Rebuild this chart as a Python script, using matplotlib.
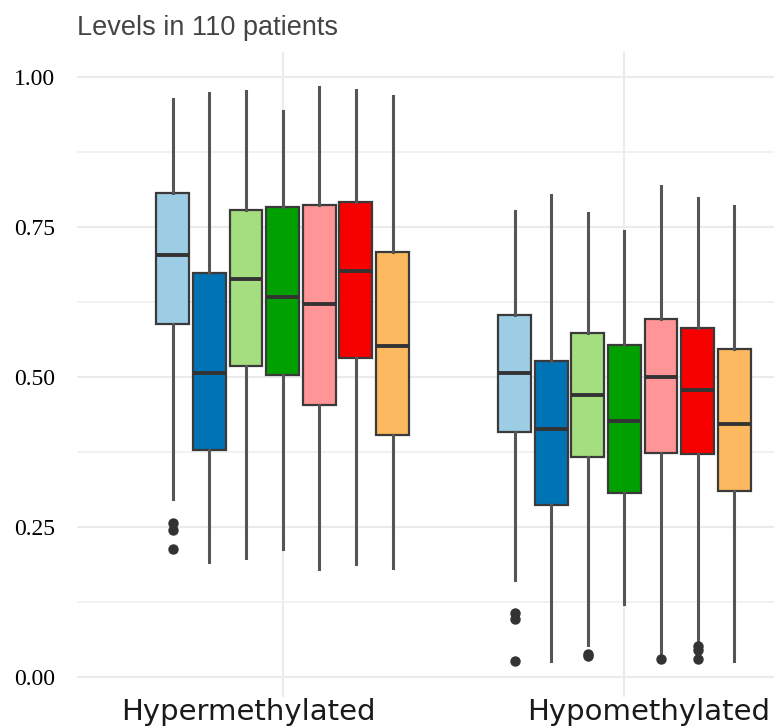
import matplotlib
matplotlib.use("Agg")
import matplotlib.pyplot as plt
import matplotlib.transforms as mtransforms

# Methylation groups on the x axis
groups = ["Hypermethylated", "Hypomethylated"]

# Box fill colours, one per series (same order inside each group)
colors = ["#9DCDE5", "#0073B5", "#A5DE7F", "#00A000", "#FF9596", "#F70000", "#FDB95F"]

# Five-number summaries per series: [whisker low, Q1, median, Q3, whisker high]
hyper_stats = [
    [0.297, 0.588, 0.703, 0.807, 0.963],
    [0.192, 0.379, 0.506, 0.674, 0.974],
    [0.199, 0.518, 0.664, 0.778, 0.976],
    [0.214, 0.504, 0.633, 0.784, 0.944],
    [0.180, 0.454, 0.622, 0.786, 0.983],
    [0.188, 0.531, 0.677, 0.791, 0.979],
    [0.182, 0.404, 0.552, 0.709, 0.969],
]
hypo_stats = [
    [0.162, 0.408, 0.506, 0.603, 0.777],
    [0.026, 0.287, 0.413, 0.526, 0.803],
    [0.053, 0.366, 0.470, 0.573, 0.774],
    [0.121, 0.307, 0.427, 0.554, 0.744],
    [0.040, 0.373, 0.500, 0.597, 0.819],
    [0.059, 0.372, 0.479, 0.582, 0.799],
    [0.027, 0.310, 0.421, 0.546, 0.785],
]

# Outlying points per series
hyper_outliers = [[0.256, 0.245, 0.213], [], [], [], [], [], []]
hypo_outliers = [[0.107, 0.097, 0.027], [], [0.038, 0.035], [], [0.030], [0.052, 0.045, 0.030], []]

y_ticks = [0.00, 0.25, 0.50, 0.75, 1.00]
y_ticklabels = ["0.00", "0.25", "0.50", "0.75", "1.00"]
title = "Levels in 110 patients"

W, H = 774, 728
fig = plt.figure(figsize=(W / 100, H / 100), dpi=100)
ax = fig.add_axes([77 / W, 1 - 697 / H, 1 - 77 / W, (697 - 52) / H])

n = len(colors)
dodge = 0.75 / n
box_w = 0.096

for gi, (stats, outs) in enumerate([(hyper_stats, hyper_outliers), (hypo_stats, hypo_outliers)]):
    center = gi + 1
    for si in range(n):
        lo, q1, med, q3, hi = stats[si]
        pos = center + (si - (n - 1) / 2) * dodge
        bstat = dict(whislo=lo, q1=q1, med=med, q3=q3, whishi=hi, fliers=outs[si])
        ax.bxp(
            [bstat], positions=[pos], widths=box_w, patch_artist=True,
            showcaps=False, manage_ticks=False,
            boxprops=dict(facecolor=colors[si], edgecolor="#3a3a3a", linewidth=1.6),
            medianprops=dict(color="#333333", linewidth=2.8, solid_capstyle="butt"),
            whiskerprops=dict(color="#555555", linewidth=2.2),
            flierprops=dict(marker="o", markerfacecolor="#333333", markeredgecolor="#333333",
                            markersize=6.5, linestyle="none"),
            zorder=3,
        )

ax.set_xlim(0.398, 2.438)
ax.set_ylim(-0.0333, 1.0417)

# Grid: major + minor horizontal lines, vertical lines at group centres
ax.set_yticks(y_ticks)
ax.set_yticklabels(y_ticklabels, fontfamily="Liberation Serif", fontsize=17, color="black")
ax.set_yticks([0.125, 0.375, 0.625, 0.875], minor=True)
ax.set_xticks([1, 2])
ax.set_xticklabels(groups, fontfamily="DejaVu Sans", fontsize=21, color="#1a1a1a")
ax.grid(True, which="major", color="#EBEBEB", linewidth=1.5, zorder=0)
ax.grid(True, which="minor", axis="y", color="#F0F0F0", linewidth=1.3, zorder=0)
ax.set_axisbelow(True)
ax.tick_params(axis="both", which="both", length=0)
ax.tick_params(axis="y", pad=16)
ax.tick_params(axis="x", pad=1)
for sp in ax.spines.values():
    sp.set_visible(False)

# Shift the group labels horizontally
shifts = [-34, 24]
for lab, dx in zip(ax.get_xticklabels(), shifts):
    lab.set_transform(lab.get_transform() + mtransforms.ScaledTranslation(dx / 100, 0, fig.dpi_scale_trans))

fig.text(77 / W, 1 - 35 / H, title, ha="left", va="baseline",
         fontfamily="Liberation Sans", fontsize=19.5, color="#444444")

fig.savefig("out.png", dpi=100)
